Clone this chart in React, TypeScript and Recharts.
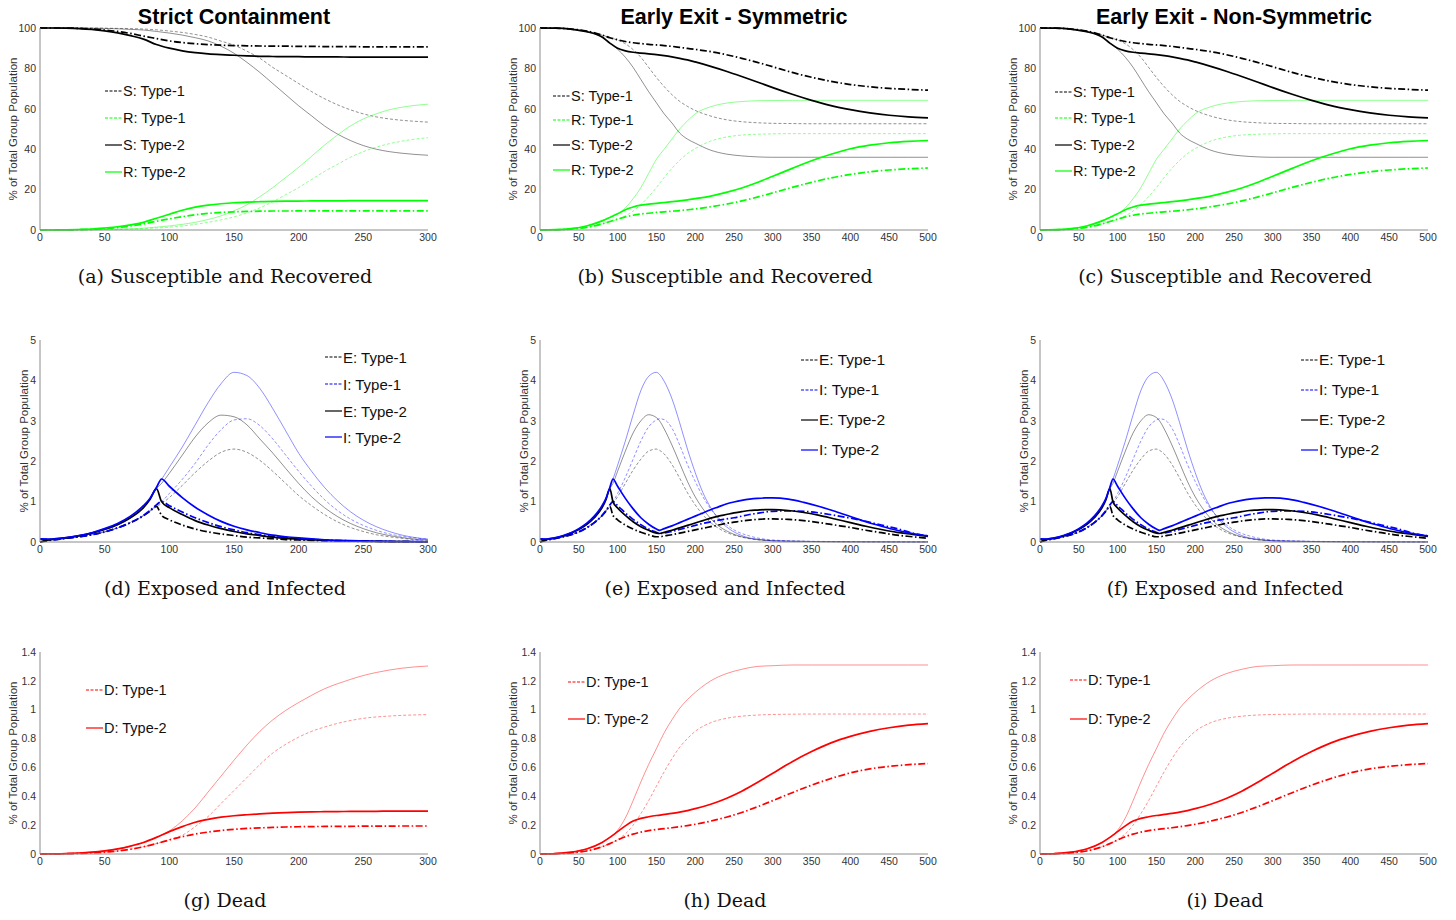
import React from "react";
import { LineChart, Line, XAxis, YAxis } from "recharts";

const SANS = '"Liberation Sans", Arial, Helvetica, sans-serif';
const SERIF = '"DejaVu Serif", "Liberation Serif", serif';

// ---- x grids ----
const X300 = [0, 10, 20, 30, 40, 50, 60, 70, 80, 90, 100, 110, 120, 130, 140, 150, 160, 170, 180, 190, 200, 210, 220, 230, 240, 250, 260, 270, 280, 290, 300];
const X500 = [0, 20, 40, 60, 80, 90, 100, 110, 120, 130, 140, 150, 160, 170, 180, 190, 200, 220, 240, 260, 280, 300, 325, 350, 375, 400, 425, 450, 475, 500];
const K300 = [0, 10, 20, 30, 40, 50, 60, 70, 80, 85, 90, 94, 100, 110, 120, 130, 140, 150, 160, 170, 180, 190, 200, 210, 220, 230, 240, 250, 260, 270, 280, 290, 300];
const K500 = [0, 10, 20, 30, 40, 50, 60, 70, 80, 85, 90, 94, 100, 110, 120, 130, 140, 150, 154, 160, 170, 180, 190, 200, 210, 220, 230, 240, 250, 260, 270, 280, 290, 300, 320, 340, 360, 380, 400, 420, 440, 460, 480, 500];

const TICKS_300 = [0, 50, 100, 150, 200, 250, 300];
const TICKS_500 = [0, 50, 100, 150, 200, 250, 300, 350, 400, 450, 500];
const TICKS_SR = [0, 20, 40, 60, 80, 100];
const TICKS_EI = [0, 1, 2, 3, 4, 5];
const TICKS_D = [0, 0.2, 0.4, 0.6, 0.8, 1, 1.2, 1.4];

// ---- (a) strict containment, S and R ----
const A_S1 = [100, 100, 100, 99.8, 99.5, 99, 98.3, 97.3, 96, 94.8, 93.6, 92.8, 92.2, 91.8, 91.5, 91.3, 91.2, 91.1, 91.0, 91.0, 90.9, 90.9, 90.8, 90.8, 90.8, 90.7, 90.7, 90.7, 90.7, 90.7, 90.7];
const A_S2 = [100, 100, 99.9, 99.7, 99.3, 98.6, 97.6, 96.2, 94.5, 91.8, 90.0, 88.7, 87.8, 87.2, 86.8, 86.5, 86.2, 86.0, 85.9, 85.8, 85.8, 85.7, 85.7, 85.7, 85.6, 85.6, 85.6, 85.6, 85.6, 85.6, 85.6];
const A_S1_BASE = [100, 100, 100, 100, 100, 99.9, 99.8, 99.7, 99.5, 99.1, 98.5, 97.8, 96.8, 95.5, 93.5, 91.5, 88.5, 85, 80.5, 76.5, 72.5, 68.5, 65, 62, 59.5, 57.5, 56, 55, 54.3, 53.8, 53.4];
const A_S2_BASE = [100, 100, 100, 100, 99.9, 99.8, 99.6, 99.3, 99, 98.3, 97.5, 96.5, 95.2, 93.6, 91, 87.5, 83, 78, 72.5, 67, 61.5, 56.5, 51.5, 47.5, 44.3, 41.8, 40, 38.8, 38, 37.4, 37];
const A_R1 = [0, 0, 0.05, 0.15, 0.35, 0.7, 1.2, 2.0, 3.0, 4.3, 5.5, 6.6, 7.5, 8.2, 8.7, 9.0, 9.2, 9.3, 9.4, 9.4, 9.5, 9.5, 9.5, 9.5, 9.5, 9.5, 9.5, 9.5, 9.5, 9.5, 9.5];
const A_R2 = [0, 0, 0.1, 0.25, 0.5, 1, 1.6, 2.5, 3.8, 5.8, 7.8, 9.8, 11.3, 12.3, 13, 13.5, 13.8, 14, 14.2, 14.3, 14.3, 14.4, 14.4, 14.4, 14.5, 14.5, 14.5, 14.5, 14.5, 14.5, 14.5];
const A_R1_BASE = [0, 0, 0, 0.05, 0.1, 0.2, 0.3, 0.45, 0.7, 1.0, 1.4, 2, 2.8, 3.8, 5, 6.5, 8.5, 11, 14, 17.5, 21, 25, 29, 32.5, 36, 38.8, 41, 42.7, 44, 45, 45.7];
const A_R2_BASE = [0, 0, 0, 0.05, 0.1, 0.25, 0.4, 0.6, 0.9, 1.4, 2, 2.8, 3.8, 5.2, 7, 9.5, 12.5, 16.5, 21, 26, 31, 36.5, 42, 47, 51.5, 55, 57.5, 59.5, 60.8, 61.7, 62.3];

// ---- (b)/(c) early exit, S and R ----
const B_S1 = [100, 99.9, 99.5, 98.5, 96.5, 95.2, 94.2, 93.3, 92.7, 92.3, 91.9, 91.6, 91.3, 90.9, 90.4, 89.9, 89.4, 88.3, 86.8, 85, 83, 80.8, 78, 75.6, 73.6, 72, 70.9, 70.1, 69.6, 69.2];
const B_S2 = [100, 99.9, 99.4, 98.2, 95.5, 92.5, 90, 88.7, 88, 87.6, 87.2, 86.8, 86.3, 85.7, 85, 84.2, 83.2, 81, 78.6, 76, 73.3, 70.5, 67.2, 64.2, 61.6, 59.6, 58, 56.8, 56, 55.5];
const B_S1_BASE = [100, 99.9, 99.5, 98.5, 96.5, 95.2, 94, 92.2, 89.3, 85.5, 80.5, 75.5, 71, 67, 63.7, 61.2, 59.2, 56.4, 54.6, 53.6, 53.1, 52.8, 52.7, 52.6, 52.6, 52.6, 52.6, 52.6, 52.6, 52.6];
const B_S2_BASE = [100, 99.9, 99.4, 98.2, 95.5, 92.5, 89.5, 85.5, 80.5, 74.5, 68.5, 63, 57.5, 53, 48, 45, 43, 39.5, 37.6, 36.7, 36.2, 36, 36, 36, 36, 36, 36, 36, 36, 36];
const B_R1 = [0, 0.1, 0.5, 1.3, 3.0, 4.2, 5.4, 6.5, 7.3, 7.9, 8.3, 8.7, 9.0, 9.3, 9.6, 10, 10.4, 11.5, 12.8, 14.4, 16.3, 18.4, 21.1, 23.6, 25.8, 27.5, 28.8, 29.7, 30.3, 30.7];
const B_R2 = [0, 0.15, 0.7, 2, 4.5, 6.2, 8, 10, 11.4, 12.3, 12.8, 13.2, 13.6, 14, 14.4, 14.9, 15.5, 16.8, 18.6, 20.8, 23.5, 26.6, 30.5, 34.3, 37.5, 40.2, 42, 43.2, 43.9, 44.3];
const B_R1_BASE = [0, 0.1, 0.5, 1.3, 3.0, 4.2, 5.2, 7, 9.4, 12.6, 16.5, 21, 26, 30.5, 34.5, 37.8, 40.3, 44, 46, 47, 47.4, 47.6, 47.7, 47.7, 47.7, 47.7, 47.7, 47.7, 47.7, 47.7];
const B_R2_BASE = [0, 0.15, 0.7, 2, 4.5, 6.2, 8, 11, 15.5, 21, 28, 35, 40, 45, 50, 54, 57.5, 61, 62.8, 63.6, 64, 64.1, 64.2, 64.2, 64.2, 64.2, 64.2, 64.2, 64.2, 64.2];

// ---- (d) strict containment, E and I ----
const D_E1 = [0, 0.05, 0.09, 0.13, 0.18, 0.25, 0.35, 0.48, 0.65, 0.76, 0.88, 0.66, 0.55, 0.42, 0.32, 0.25, 0.2, 0.16, 0.12, 0.1, 0.08, 0.06, 0.05, 0.04, 0.03, 0.025, 0.02, 0.015, 0.012, 0.01, 0.008, 0.006, 0.005];
const D_E2 = [0, 0.07, 0.1, 0.15, 0.22, 0.31, 0.43, 0.6, 0.85, 1.05, 1.32, 1.0, 0.85, 0.68, 0.53, 0.42, 0.33, 0.26, 0.2, 0.16, 0.12, 0.09, 0.07, 0.055, 0.04, 0.03, 0.025, 0.02, 0.015, 0.01, 0.008, 0.006, 0.005];
const D_I1 = [0.07, 0.06, 0.09, 0.13, 0.18, 0.25, 0.35, 0.48, 0.66, 0.78, 0.92, 1.0, 0.9, 0.74, 0.6, 0.48, 0.38, 0.3, 0.23, 0.18, 0.14, 0.11, 0.085, 0.065, 0.05, 0.04, 0.03, 0.024, 0.018, 0.014, 0.01, 0.008, 0.006];
const D_I2 = [0.08, 0.07, 0.11, 0.16, 0.23, 0.33, 0.46, 0.64, 0.9, 1.08, 1.35, 1.56, 1.38, 1.1, 0.86, 0.67, 0.51, 0.39, 0.3, 0.23, 0.17, 0.13, 0.1, 0.075, 0.055, 0.042, 0.032, 0.025, 0.018, 0.014, 0.01, 0.008, 0.006];
const D_E1_BASE = [0, 0.05, 0.09, 0.13, 0.18, 0.25, 0.35, 0.48, 0.65, 0.76, 0.88, 0.95, 1.1, 1.4, 1.72, 2.0, 2.22, 2.3, 2.22, 2.02, 1.75, 1.45, 1.15, 0.9, 0.68, 0.5, 0.36, 0.26, 0.18, 0.13, 0.09, 0.06, 0.04];
const D_E2_BASE = [0, 0.07, 0.1, 0.15, 0.22, 0.31, 0.43, 0.6, 0.85, 1.05, 1.32, 1.45, 1.7, 2.15, 2.6, 2.95, 3.14, 3.1, 2.9, 2.55, 2.2, 1.82, 1.45, 1.12, 0.85, 0.63, 0.46, 0.33, 0.23, 0.16, 0.11, 0.07, 0.05];
const D_I1_BASE = [0.07, 0.06, 0.09, 0.13, 0.18, 0.25, 0.35, 0.48, 0.66, 0.78, 0.92, 1.0, 1.2, 1.55, 1.95, 2.4, 2.78, 3.02, 3.05, 2.88, 2.55, 2.15, 1.75, 1.38, 1.05, 0.78, 0.57, 0.41, 0.29, 0.2, 0.14, 0.1, 0.07];
const D_I2_BASE = [0.08, 0.07, 0.11, 0.16, 0.23, 0.33, 0.46, 0.64, 0.9, 1.08, 1.35, 1.55, 1.85, 2.35, 2.9, 3.45, 3.92, 4.2, 4.12, 3.8, 3.3, 2.75, 2.2, 1.75, 1.35, 1.02, 0.75, 0.54, 0.38, 0.26, 0.17, 0.11, 0.07];

// ---- (e)/(f) early exit, E and I ----
const E_E1 = [0, 0.05, 0.09, 0.13, 0.18, 0.25, 0.35, 0.48, 0.65, 0.76, 0.88, 0.66, 0.55, 0.42, 0.32, 0.24, 0.18, 0.13, 0.13, 0.15, 0.18, 0.22, 0.26, 0.3, 0.34, 0.38, 0.42, 0.46, 0.49, 0.52, 0.54, 0.56, 0.57, 0.57, 0.56, 0.53, 0.48, 0.42, 0.36, 0.29, 0.23, 0.17, 0.13, 0.09];
const E_E2 = [0, 0.07, 0.1, 0.15, 0.22, 0.31, 0.43, 0.6, 0.85, 1.05, 1.32, 1.0, 0.84, 0.66, 0.5, 0.38, 0.29, 0.22, 0.21, 0.24, 0.29, 0.35, 0.41, 0.47, 0.53, 0.59, 0.64, 0.68, 0.72, 0.75, 0.78, 0.79, 0.8, 0.8, 0.78, 0.73, 0.66, 0.57, 0.48, 0.39, 0.31, 0.24, 0.19, 0.14];
const E_I1 = [0.07, 0.06, 0.09, 0.13, 0.18, 0.25, 0.35, 0.48, 0.66, 0.78, 0.92, 1.0, 0.9, 0.72, 0.56, 0.43, 0.32, 0.24, 0.21, 0.22, 0.26, 0.31, 0.36, 0.41, 0.46, 0.5, 0.54, 0.57, 0.6, 0.64, 0.68, 0.71, 0.74, 0.76, 0.77, 0.76, 0.72, 0.66, 0.59, 0.51, 0.42, 0.33, 0.22, 0.15];
const E_I2 = [0.08, 0.07, 0.11, 0.16, 0.23, 0.33, 0.46, 0.64, 0.9, 1.08, 1.35, 1.56, 1.38, 1.08, 0.82, 0.6, 0.44, 0.32, 0.29, 0.33, 0.4, 0.48, 0.56, 0.64, 0.72, 0.8, 0.87, 0.94, 0.99, 1.03, 1.06, 1.08, 1.09, 1.09, 1.06, 0.98, 0.88, 0.76, 0.63, 0.5, 0.39, 0.29, 0.21, 0.15];
const E_E1_BASE = [0, 0.05, 0.09, 0.13, 0.18, 0.25, 0.35, 0.48, 0.65, 0.76, 0.88, 0.95, 1.12, 1.45, 1.78, 2.05, 2.25, 2.3, 2.27, 2.18, 1.92, 1.58, 1.22, 0.92, 0.67, 0.48, 0.34, 0.24, 0.17, 0.12, 0.08, 0.055, 0.04, 0.03, 0.02, 0.015, 0.01, 0.008, 0.006, 0.005, 0.004, 0.003, 0.002, 0.002];
const E_E2_BASE = [0, 0.07, 0.1, 0.15, 0.22, 0.31, 0.43, 0.6, 0.85, 1.05, 1.32, 1.45, 1.75, 2.25, 2.7, 3.0, 3.15, 3.08, 3.0, 2.8, 2.4, 1.95, 1.5, 1.12, 0.82, 0.58, 0.4, 0.28, 0.19, 0.13, 0.09, 0.06, 0.04, 0.03, 0.02, 0.015, 0.01, 0.008, 0.006, 0.005, 0.004, 0.003, 0.002, 0.002];
const E_I1_BASE = [0.07, 0.06, 0.09, 0.13, 0.18, 0.25, 0.35, 0.48, 0.66, 0.78, 0.92, 1.0, 1.2, 1.6, 2.05, 2.5, 2.85, 3.02, 3.05, 3.03, 2.82, 2.4, 1.92, 1.5, 1.12, 0.82, 0.6, 0.43, 0.3, 0.21, 0.15, 0.1, 0.07, 0.05, 0.03, 0.02, 0.015, 0.01, 0.008, 0.006, 0.005, 0.004, 0.003, 0.003];
const E_I2_BASE = [0.08, 0.07, 0.11, 0.16, 0.23, 0.33, 0.46, 0.64, 0.9, 1.08, 1.35, 1.55, 1.9, 2.5, 3.15, 3.75, 4.1, 4.2, 4.15, 3.98, 3.55, 2.95, 2.3, 1.72, 1.22, 0.85, 0.57, 0.38, 0.25, 0.16, 0.1, 0.07, 0.05, 0.03, 0.02, 0.015, 0.01, 0.008, 0.006, 0.005, 0.004, 0.003, 0.002, 0.002];

// ---- (g) strict containment, D ----
const G_D1 = [0, 0.001, 0.002, 0.004, 0.008, 0.013, 0.021, 0.033, 0.05, 0.072, 0.097, 0.12, 0.138, 0.152, 0.163, 0.171, 0.177, 0.181, 0.184, 0.187, 0.189, 0.19, 0.191, 0.192, 0.192, 0.193, 0.193, 0.193, 0.194, 0.194, 0.194];
const G_D2 = [0, 0.001, 0.003, 0.007, 0.013, 0.022, 0.035, 0.055, 0.08, 0.115, 0.155, 0.19, 0.22, 0.24, 0.255, 0.265, 0.272, 0.278, 0.283, 0.287, 0.29, 0.292, 0.293, 0.294, 0.295, 0.296, 0.296, 0.297, 0.297, 0.297, 0.297];
const G_D1_BASE = [0, 0.001, 0.002, 0.004, 0.008, 0.013, 0.021, 0.033, 0.05, 0.072, 0.1, 0.13, 0.19, 0.26, 0.35, 0.44, 0.53, 0.62, 0.7, 0.76, 0.81, 0.85, 0.88, 0.905, 0.925, 0.94, 0.95, 0.956, 0.961, 0.964, 0.966];
const G_D2_BASE = [0, 0.001, 0.003, 0.007, 0.013, 0.022, 0.035, 0.055, 0.08, 0.115, 0.16, 0.23, 0.32, 0.43, 0.54, 0.65, 0.755, 0.85, 0.93, 0.995, 1.05, 1.1, 1.145, 1.18, 1.21, 1.237, 1.258, 1.275, 1.288, 1.297, 1.303];

// ---- (h)/(i) early exit, D ----
const H_D1 = [0, 0.002, 0.008, 0.021, 0.05, 0.072, 0.097, 0.12, 0.138, 0.152, 0.162, 0.17, 0.176, 0.182, 0.189, 0.197, 0.206, 0.228, 0.255, 0.288, 0.327, 0.37, 0.425, 0.477, 0.523, 0.562, 0.59, 0.607, 0.619, 0.627];
const H_D2 = [0, 0.003, 0.013, 0.035, 0.08, 0.115, 0.155, 0.195, 0.228, 0.247, 0.258, 0.267, 0.274, 0.281, 0.29, 0.301, 0.314, 0.345, 0.385, 0.435, 0.495, 0.56, 0.64, 0.71, 0.77, 0.815, 0.85, 0.875, 0.893, 0.904];
const H_D1_BASE = [0, 0.002, 0.008, 0.021, 0.05, 0.072, 0.1, 0.14, 0.2, 0.28, 0.37, 0.47, 0.57, 0.66, 0.74, 0.8, 0.85, 0.91, 0.94, 0.955, 0.963, 0.967, 0.969, 0.97, 0.97, 0.97, 0.97, 0.97, 0.97, 0.97];
const H_D2_BASE = [0, 0.003, 0.013, 0.035, 0.08, 0.115, 0.165, 0.25, 0.37, 0.5, 0.62, 0.73, 0.84, 0.93, 1.01, 1.07, 1.12, 1.2, 1.25, 1.28, 1.3, 1.305, 1.31, 1.31, 1.31, 1.31, 1.31, 1.31, 1.31, 1.31];

const BLACK = "#000000";
const GREEN = "#00ff00";
const BLUE = "#0000ff";
const RED = "#ff0000";

type Curve = { key: string; values: number[]; color: string; type1: boolean; thin: boolean };
type LegendItem = { label: string; color: string; type1: boolean };

const c = (key: string, values: number[], color: string, type1: boolean, thin: boolean): Curve => ({ key, values, color, type1, thin });

const SR_LEGEND: LegendItem[] = [
  { label: "S: Type-1", color: BLACK, type1: true },
  { label: "R: Type-1", color: GREEN, type1: true },
  { label: "S: Type-2", color: BLACK, type1: false },
  { label: "R: Type-2", color: GREEN, type1: false },
];
const EI_LEGEND: LegendItem[] = [
  { label: "E: Type-1", color: BLACK, type1: true },
  { label: "I: Type-1", color: BLUE, type1: true },
  { label: "E: Type-2", color: BLACK, type1: false },
  { label: "I: Type-2", color: BLUE, type1: false },
];
const D_LEGEND: LegendItem[] = [
  { label: "D: Type-1", color: RED, type1: true },
  { label: "D: Type-2", color: RED, type1: false },
];

const curvesA = [
  c("s1b", A_S1_BASE, BLACK, true, true), c("s2b", A_S2_BASE, BLACK, false, true),
  c("r1b", A_R1_BASE, GREEN, true, true), c("r2b", A_R2_BASE, GREEN, false, true),
  c("s1", A_S1, BLACK, true, false), c("s2", A_S2, BLACK, false, false),
  c("r1", A_R1, GREEN, true, false), c("r2", A_R2, GREEN, false, false),
];
const curvesB = [
  c("s1b", B_S1_BASE, BLACK, true, true), c("s2b", B_S2_BASE, BLACK, false, true),
  c("r1b", B_R1_BASE, GREEN, true, true), c("r2b", B_R2_BASE, GREEN, false, true),
  c("s1", B_S1, BLACK, true, false), c("s2", B_S2, BLACK, false, false),
  c("r1", B_R1, GREEN, true, false), c("r2", B_R2, GREEN, false, false),
];
const curvesD = [
  c("e1b", D_E1_BASE, BLACK, true, true), c("e2b", D_E2_BASE, BLACK, false, true),
  c("i1b", D_I1_BASE, BLUE, true, true), c("i2b", D_I2_BASE, BLUE, false, true),
  c("e1", D_E1, BLACK, true, false), c("i1", D_I1, BLUE, true, false),
  c("e2", D_E2, BLACK, false, false), c("i2", D_I2, BLUE, false, false),
];
const curvesE = [
  c("e1b", E_E1_BASE, BLACK, true, true), c("e2b", E_E2_BASE, BLACK, false, true),
  c("i1b", E_I1_BASE, BLUE, true, true), c("i2b", E_I2_BASE, BLUE, false, true),
  c("e1", E_E1, BLACK, true, false), c("i1", E_I1, BLUE, true, false),
  c("e2", E_E2, BLACK, false, false), c("i2", E_I2, BLUE, false, false),
];
const curvesG = [
  c("d1b", G_D1_BASE, RED, true, true), c("d2b", G_D2_BASE, RED, false, true),
  c("d1", G_D1, RED, true, false), c("d2", G_D2, RED, false, false),
];
const curvesH = [
  c("d1b", H_D1_BASE, RED, true, true), c("d2b", H_D2_BASE, RED, false, true),
  c("d1", H_D1, RED, true, false), c("d2", H_D2, RED, false, false),
];

type PanelDef = {
  col: number;
  row: number;
  xs: number[];
  xMax: number;
  xTicks: number[];
  yMax: number;
  yTicks: number[];
  curves: Curve[];
  legend: LegendItem[];
  legendX: number;
  legendYs: number[];
  legendFont: number;
  yLabelX: number;
  caption: string;
};

const PANELS: PanelDef[] = [
  { col: 0, row: 0, xs: X300, xMax: 300, xTicks: TICKS_300, yMax: 100, yTicks: TICKS_SR, curves: curvesA, legend: SR_LEGEND, legendX: 105, legendYs: [91, 118, 145, 172], legendFont: 14.5, yLabelX: 13, caption: "(a) Susceptible and Recovered" },
  { col: 1, row: 0, xs: X500, xMax: 500, xTicks: TICKS_500, yMax: 100, yTicks: TICKS_SR, curves: curvesB, legend: SR_LEGEND, legendX: 553, legendYs: [96, 120, 145, 170], legendFont: 14.5, yLabelX: 513, caption: "(b) Susceptible and Recovered" },
  { col: 2, row: 0, xs: X500, xMax: 500, xTicks: TICKS_500, yMax: 100, yTicks: TICKS_SR, curves: curvesB, legend: SR_LEGEND, legendX: 1055, legendYs: [92, 118, 145, 171], legendFont: 14.5, yLabelX: 1013, caption: "(c) Susceptible and Recovered" },
  { col: 0, row: 1, xs: K300, xMax: 300, xTicks: TICKS_300, yMax: 5, yTicks: TICKS_EI, curves: curvesD, legend: EI_LEGEND, legendX: 325, legendYs: [357, 384, 411, 437], legendFont: 15, yLabelX: 24, caption: "(d) Exposed and Infected" },
  { col: 1, row: 1, xs: K500, xMax: 500, xTicks: TICKS_500, yMax: 5, yTicks: TICKS_EI, curves: curvesE, legend: EI_LEGEND, legendX: 801, legendYs: [360, 390, 420, 450], legendFont: 15.5, yLabelX: 524, caption: "(e) Exposed and Infected" },
  { col: 2, row: 1, xs: K500, xMax: 500, xTicks: TICKS_500, yMax: 5, yTicks: TICKS_EI, curves: curvesE, legend: EI_LEGEND, legendX: 1301, legendYs: [360, 390, 420, 450], legendFont: 15.5, yLabelX: 1024, caption: "(f) Exposed and Infected" },
  { col: 0, row: 2, xs: X300, xMax: 300, xTicks: TICKS_300, yMax: 1.4, yTicks: TICKS_D, curves: curvesG, legend: D_LEGEND, legendX: 86, legendYs: [690, 728], legendFont: 14.5, yLabelX: 13, caption: "(g) Dead" },
  { col: 1, row: 2, xs: X500, xMax: 500, xTicks: TICKS_500, yMax: 1.4, yTicks: TICKS_D, curves: curvesH, legend: D_LEGEND, legendX: 568, legendYs: [682, 719], legendFont: 14.5, yLabelX: 513, caption: "(h) Dead" },
  { col: 2, row: 2, xs: X500, xMax: 500, xTicks: TICKS_500, yMax: 1.4, yTicks: TICKS_D, curves: curvesH, legend: D_LEGEND, legendX: 1070, legendYs: [680, 719], legendFont: 14.5, yLabelX: 1013, caption: "(i) Dead" },
];

const TITLES = ["Strict Containment", "Early Exit - Symmetric", "Early Exit - Non-Symmetric"];

const CHART_W = 460;
const CHART_H = 260;
const ROW_STEP = 312;
const COL_STEP = 500;

function buildRows(xs: number[], curves: Curve[]) {
  return xs.map((x, i) => {
    const row: Record<string, number> = { x };
    curves.forEach((cv) => {
      row[cv.key] = cv.values[i];
    });
    return row;
  });
}

function Panel({ p }: { p: PanelDef }) {
  const data = buildRows(p.xs, p.curves);
  const left = p.col * COL_STEP;
  const top = p.row * ROW_STEP;
  const tick = { fontSize: 10.5, fill: "#333", fontFamily: SANS };
  return (
    <>
      <div style={{ position: "absolute", left, top }}>
        <LineChart width={CHART_W} height={CHART_H} data={data} margin={{ top: 28, right: 32, bottom: 10, left: 10 }}>
          <XAxis
            dataKey="x"
            type="number"
            domain={[0, p.xMax]}
            ticks={p.xTicks}
            interval={0}
            tick={tick}
            tickLine={false}
            tickSize={4}
            tickMargin={0}
            height={20}
            axisLine={{ stroke: "#8c8c8c" }}
          />
          <YAxis
            type="number"
            domain={[0, p.yMax]}
            ticks={p.yTicks}
            interval={0}
            tick={tick}
            tickLine={false}
            tickSize={3}
            tickMargin={1}
            width={30}
            axisLine={{ stroke: "#8c8c8c" }}
          />
          {p.curves.map((cv) => (
            <Line
              key={cv.key}
              dataKey={cv.key}
              type="monotone"
              stroke={cv.color}
              strokeWidth={cv.thin ? 0.8 : 1.7}
              strokeOpacity={cv.thin ? 0.55 : 1}
              strokeDasharray={cv.type1 ? (cv.thin ? "3 2" : "7 2.5 1.5 2.5") : undefined}
              dot={false}
              activeDot={false}
              isAnimationActive={false}
            />
          ))}
        </LineChart>
      </div>
      <div
        style={{
          position: "absolute",
          left: p.yLabelX,
          top: top + 129,
          transform: "translate(-50%, -50%) rotate(-90deg)",
          whiteSpace: "nowrap",
          fontFamily: SANS,
          fontSize: 11.5,
          color: "#333",
        }}
      >
        % of Total Group Population
      </div>
      {p.legend.map((item, i) => (
        <div
          key={item.label}
          style={{
            position: "absolute",
            left: p.legendX,
            top: p.legendYs[i] - 10,
            height: 20,
            display: "flex",
            alignItems: "center",
            whiteSpace: "nowrap",
            fontFamily: SANS,
            fontSize: p.legendFont,
            color: "#111",
          }}
        >
          <svg width={17} height={6} style={{ marginRight: 1 }}>
            <line x1={0} y1={3} x2={17} y2={3} stroke={item.color} strokeWidth={1.2} strokeDasharray={item.type1 ? "3 1.5" : undefined} />
          </svg>
          <span>{item.label}</span>
        </div>
      ))}
      <div
        style={{
          position: "absolute",
          left: left + 225 - 200,
          width: 400,
          top: top + 278 - 13,
          textAlign: "center",
          fontFamily: SERIF,
          fontSize: 19,
          color: "#111",
          whiteSpace: "nowrap",
        }}
      >
        {p.caption}
      </div>
    </>
  );
}

export default function App() {
  return (
    <div style={{ position: "absolute", left: 0, top: 0, width: 1456, height: 920, background: "#fff", overflow: "hidden" }}>
      {TITLES.map((t, i) => (
        <div
          key={t}
          style={{
            position: "absolute",
            left: i * COL_STEP + 234 - 200,
            width: 400,
            top: 5,
            textAlign: "center",
            fontFamily: SANS,
            fontWeight: "bold",
            fontSize: 21.5,
            color: "#000",
          }}
        >
          {t}
        </div>
      ))}
      {PANELS.map((p) => (
        <Panel key={`${p.col}-${p.row}`} p={p} />
      ))}
    </div>
  );
}
